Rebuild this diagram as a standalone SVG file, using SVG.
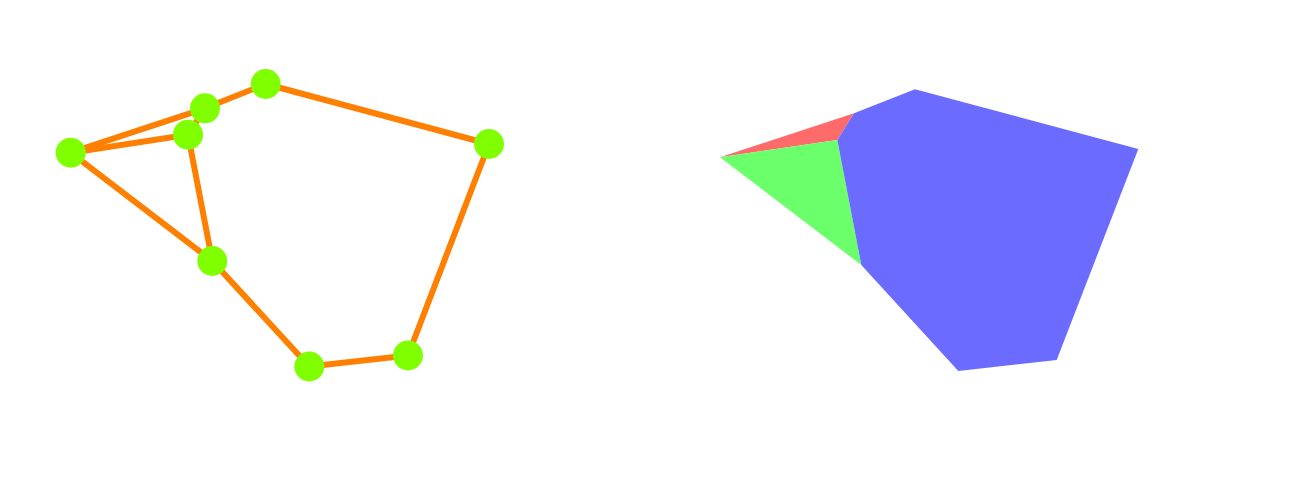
<svg xmlns="http://www.w3.org/2000/svg" width="1300" height="500" viewBox="0 0 1300 500">
<style>
.e{stroke:#ff8000;stroke-width:6;fill:none;stroke-linecap:round}
.n{fill:#80ff00}
</style>
<rect width="1300" height="500" fill="#fff"/>
<g id="connectors">
<line class="e" x1="70.7" y1="152.7" x2="205" y2="108.3"/>
<line class="e" x1="205" y1="108.3" x2="265.7" y2="84"/>
<line class="e" x1="265.7" y1="84" x2="489" y2="144"/>
<line class="e" x1="489" y1="144" x2="408" y2="355.5"/>
<line class="e" x1="408" y1="355.5" x2="309.3" y2="366.5"/>
<line class="e" x1="309.3" y1="366.5" x2="212.3" y2="261"/>
<line class="e" x1="212.3" y1="261" x2="70.7" y2="152.7"/>
<line class="e" x1="70.7" y1="152.7" x2="188" y2="134.7"/>
<line class="e" x1="188" y1="134.7" x2="212.3" y2="261"/>
<line class="e" x1="188" y1="134.7" x2="205" y2="108.3"/>
</g>
<g id="n1"><circle class="n" cx="70.7" cy="152.7" r="15"/></g>
<g id="n2"><circle class="n" cx="205" cy="108.3" r="15"/></g>
<g id="n3"><circle class="n" cx="265.7" cy="84" r="15"/></g>
<g id="n4"><circle class="n" cx="489" cy="144" r="15"/></g>
<g id="n5"><circle class="n" cx="188" cy="134.7" r="15"/></g>
<g id="n6"><circle class="n" cx="212.3" cy="261" r="15"/></g>
<g id="n7"><circle class="n" cx="309.3" cy="366.5" r="15"/></g>
<g id="n8"><circle class="n" cx="408" cy="355.5" r="15"/></g>
<g id="faces">
<polygon fill="#ff6b6b" points="720,157.3 854,113.3 837.3,140"/>
<polygon fill="#6bff6b" points="720,157.3 837.3,140 861.3,265"/>
<polygon fill="#6b6bff" points="837.3,140 854,113.3 915,89.3 1138.3,149 1056.7,360 958.3,371 861.3,265"/>
</g>
</svg>
